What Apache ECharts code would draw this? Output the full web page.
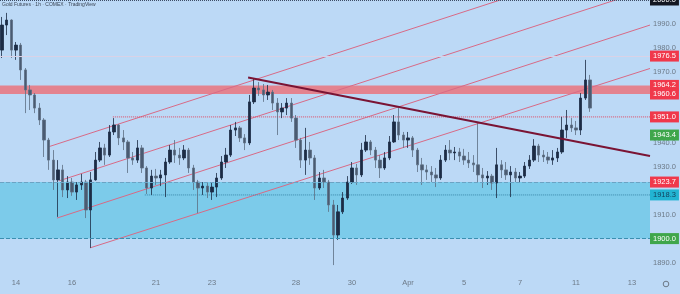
<!DOCTYPE html>
<html><head><meta charset="utf-8">
<script src="https://cdn.jsdelivr.net/npm/echarts@6/dist/echarts.min.js"></script>
<style>html,body{margin:0;padding:0;background:#bcd9f6}#c{width:680px;height:294px}</style>
</head><body><div id="c"></div>
<script>
// ---- data (prices in USD/oz, x in trading days since the Mar 14 session start) ----
const barsPerDay = 6;          // 4-hour bars
const firstBar = -0.5;         // first bar position (trading days)
const opens=[1979.0,1989.5,1991.6,1979.0,1981.1,1970.7,1962.3,1960.2,1954.7,1949.7,
1941.3,1932.9,1924.6,1928.8,1920.4,1923.7,1919.5,1922.5,1923.7,1912.0,
1924.6,1932.9,1938.0,1935.0,1944.7,1947.6,1942.2,1940.5,1933.8,1932.9,
1938.0,1929.6,1921.2,1926.2,1925.4,1926.7,1932.1,1937.1,1935.0,1933.8,
1937.1,1929.6,1923.7,1921.2,1922.0,1919.5,1921.6,1925.4,1932.1,1935.0,
1945.5,1946.4,1942.2,1940.1,1957.3,1963.1,1962.3,1960.2,1961.4,1956.8,
1953.1,1954.7,1956.8,1950.5,1941.3,1932.9,1937.1,1933.8,1921.2,1925.4,
1923.7,1914.1,1901.5,1911.2,1917.0,1923.7,1929.6,1926.7,1937.1,1940.5,
1937.1,1932.9,1929.6,1933.8,1940.5,1948.9,1943.4,1941.3,1942.2,1937.1,
1930.9,1928.8,1927.9,1926.7,1925.4,1932.9,1937.1,1935.9,1936.3,1934.6,
1932.9,1931.7,1930.9,1926.7,1925.4,1926.2,1923.3,1930.9,1928.8,1926.7,
1927.9,1925.4,1926.2,1930.4,1932.9,1938.8,1935.0,1934.2,1932.9,1933.8,
1936.3,1945.5,1947.6,1946.4,1945.5,1958.9,1966.5];
const closes=[1989.5,1991.6,1979.0,1981.1,1970.7,1962.3,1960.2,1954.7,1949.7,1941.3,
1932.9,1924.6,1928.8,1920.4,1923.7,1919.5,1922.5,1923.7,1912.0,1924.6,
1932.9,1938.0,1935.0,1944.7,1947.6,1942.2,1940.5,1933.8,1932.9,1938.0,
1929.6,1921.2,1926.2,1925.4,1926.7,1932.1,1937.1,1935.0,1933.8,1937.1,
1929.6,1923.7,1921.2,1922.0,1919.5,1921.6,1925.4,1932.1,1935.0,1945.5,
1946.4,1942.2,1940.1,1957.3,1963.1,1962.3,1960.2,1961.4,1956.8,1953.1,
1954.7,1956.8,1950.5,1941.3,1932.9,1937.1,1933.8,1921.2,1925.4,1923.7,
1914.1,1901.5,1911.2,1917.0,1923.7,1929.6,1926.7,1937.1,1940.5,1937.1,
1932.9,1929.6,1933.8,1940.5,1948.9,1943.4,1941.3,1942.2,1937.1,1930.9,
1928.8,1927.9,1926.7,1925.4,1932.9,1937.1,1935.9,1936.3,1934.6,1932.9,
1931.7,1930.9,1926.7,1925.4,1926.2,1923.3,1930.9,1928.8,1926.7,1927.9,
1925.4,1926.2,1930.4,1932.9,1938.8,1935.0,1934.2,1932.9,1933.8,1936.3,
1945.5,1947.6,1946.4,1945.5,1958.9,1966.5,1954.7];
const lows=[1975.7,1985.3,1975.7,1974.9,1966.5,1952.6,1953.9,1952.6,1947.6,1934.2,
1928.8,1920.4,1909.1,1917.4,1917.0,1917.9,1916.2,1920.4,1908.6,1896.1,
1924.3,1932.1,1930.9,1934.2,1943.4,1939.2,1937.1,1927.5,1930.9,1931.7,
1927.5,1918.7,1918.3,1922.5,1922.0,1917.4,1931.3,1931.7,1930.9,1932.9,
1927.5,1920.4,1910.7,1918.3,1917.0,1916.2,1917.4,1924.6,1929.6,1934.2,
1943.0,1940.5,1937.1,1939.2,1956.4,1959.8,1957.3,1958.1,1953.9,1943.4,
1950.5,1951.8,1948.9,1938.0,1929.6,1926.7,1930.9,1916.2,1920.4,1921.2,
1911.2,1888.9,1899.4,1910.3,1916.2,1922.9,1922.5,1925.8,1936.3,1935.0,
1929.6,1925.4,1928.8,1932.9,1940.1,1941.3,1938.0,1938.0,1934.2,1927.9,
1922.5,1924.6,1923.7,1921.6,1924.6,1932.1,1932.9,1932.9,1932.1,1930.9,
1929.6,1927.9,1923.7,1921.2,1922.5,1920.4,1917.0,1925.4,1924.6,1917.4,
1923.7,1923.3,1925.4,1929.2,1932.1,1932.1,1932.1,1931.3,1930.9,1932.1,
1935.5,1942.2,1944.7,1943.4,1943.4,1958.1,1953.1];
const highs=[1992.9,1994.6,1991.9,1982.4,1982.0,1971.5,1964.4,1961.0,1956.8,1950.5,
1942.2,1937.1,1932.9,1930.9,1926.2,1925.4,1923.7,1927.1,1924.6,1927.9,
1936.3,1940.5,1939.7,1947.6,1950.5,1948.0,1945.5,1941.3,1936.3,1941.3,
1939.2,1930.4,1928.8,1929.2,1928.8,1933.8,1939.2,1941.3,1938.0,1939.2,
1938.0,1930.9,1924.6,1923.7,1923.7,1923.3,1927.5,1934.6,1938.0,1947.6,
1948.9,1947.2,1943.8,1960.2,1966.9,1965.6,1964.8,1964.4,1962.3,1958.9,
1956.8,1958.9,1958.9,1951.8,1942.2,1946.4,1940.5,1935.0,1927.9,1928.8,
1924.6,1916.2,1914.1,1919.5,1926.2,1932.1,1931.3,1940.1,1943.4,1941.3,
1938.4,1935.0,1936.3,1943.0,1951.8,1954.7,1944.7,1944.7,1943.0,1938.0,
1933.8,1930.9,1930.4,1929.6,1935.0,1939.2,1941.3,1938.4,1938.0,1937.6,
1936.3,1935.0,1948.5,1929.6,1928.3,1927.1,1938.0,1932.9,1932.1,1930.4,
1929.6,1927.9,1932.1,1935.0,1941.7,1939.7,1937.1,1936.3,1937.1,1938.0,
1951.0,1953.9,1950.5,1949.3,1961.0,1974.9,1968.6];

const dayTicks  = [0, 2, 5, 7, 10, 12, 14, 16, 18, 20, 22];
const dayLabels = ['14','16','21','23','28','30','Apr','5','7','11','13'];
const priceTicks = [1890, 1910, 1930, 1940, 1970, 1980, 1990];

// drawn levels / zones
const resistanceZone = [1960.6, 1964.2];
const supportZone    = [1900.0, 1923.7];
const level1951 = [[3.46, 1951.0], [22.643, 1951.0]];
const level1918 = [[4.6, 1918.3], [22.643, 1918.3]];
const trendLine = [[8.29, 1967.5], [22.643, 1934.6]];
const channelD = [[1.143, 1938.4], [22.643, 2020.4]];
const channelA = [[1.536, 1924.2], [22.643, 2004.7]];
const channelB = [[1.464, 1908.6], [22.643, 1989.5]];
const channelC = [[2.643, 1896.1], [22.643, 1971.3]];
const tagValues = [2000.0, 1976.5, 1964.2, 1960.6, 1951.0, 1943.4, 1923.7, 1918.3, 1900.0];
const tagKinds  = ['black','red','red','red','red','green','red','teal','green'];

// ---- chart ----
const FONT = 'Liberation Sans';
const tagStyles = {
  black: {bg:'#131722', fg:'#ffffff'},
  red:   {bg:'#f0384b', fg:'#ffffff'},
  green: {bg:'#3fa64b', fg:'#ffffff'},
  teal:  {bg:'#22b4d2', fg:'#123f5a'}
};
const candleData = opens.map((o,i)=>[firstBar + i/barsPerDay, o, closes[i], lows[i], highs[i]]);
const chLine = (d)=>({type:'line', data:d, showSymbol:false, symbol:'none', silent:true, z:2,
  lineStyle:{color:'#d86a86', width:1}, animation:false});

const chart = echarts.init(document.getElementById('c'), null, {renderer:'canvas'});
chart.setOption({
  animation:false,
  backgroundColor:'#bcd9f6',
  title:{text:'Gold Futures · 1h · COMEX · TradingView', left:2, top:2, padding:0,
    textStyle:{fontSize:5, fontWeight:'normal', color:'#3b4656', fontFamily:FONT}},
  grid:{left:0, right:30, top:0, bottom:22, containLabel:false, outerBoundsMode:'none'},
  xAxis:{type:'value', min:-0.571, max:22.643,
    axisLine:{show:false}, axisTick:{show:false}, splitLine:{show:false},
    axisLabel:{customValues:dayTicks, margin:7, color:'#6c7987', fontSize:7.5, fontFamily:FONT,
      formatter:(v)=>dayLabels[dayTicks.indexOf(Math.round(v))] || ''}},
  yAxis:{type:'value', position:'right', min:1886, max:2000, scale:true,
    axisLine:{show:false}, axisTick:{show:false}, splitLine:{show:false},
    axisLabel:{customValues:priceTicks, margin:3, color:'#6c7987', fontSize:7.5, fontFamily:FONT,
      formatter:(v)=>v.toFixed(1)}},
  graphic:[{type:'circle', shape:{cx:666, cy:284, r:2.8}, style:{fill:'none', stroke:'#6c7987', lineWidth:1}}],
  series:[
    {type:'line', data:[], z:1, silent:true,
     markArea:{silent:true, data:[
       [{yAxis:resistanceZone[0], itemStyle:{color:'#e3838f'}}, {yAxis:resistanceZone[1]}],
       [{yAxis:supportZone[0], itemStyle:{color:'#7ccbea'}}, {yAxis:supportZone[1]}]
     ]},
     markLine:{silent:true, symbol:['none','none'], label:{show:false}, data:[
       {yAxis:supportZone[1], lineStyle:{color:'#6aa3c4', type:'dashed', width:1}},
       {yAxis:supportZone[0], lineStyle:{color:'#3a8fb0', type:'dashed', width:1}},
       {yAxis:1976.5, lineStyle:{color:'#d9d2e6', type:'solid', width:1}},
       {yAxis:2000.0, lineStyle:{color:'#3d4d66', type:'dotted', width:1}}
     ]}},
    chLine(channelD), chLine(channelA), chLine(channelB), chLine(channelC),
    {type:'line', data:level1951, showSymbol:false, symbol:'none', silent:true, z:2,
     lineStyle:{color:'#e04a62', type:'dotted', width:1}},
    {type:'line', data:level1918, showSymbol:false, symbol:'none', silent:true, z:2,
     lineStyle:{color:'#3a86aa', type:'dotted', width:1}},
    {type:'candlestick', data:candleData, encode:{x:0, y:[1,2,3,4]}, barWidth:2.6, z:3,
     itemStyle:{color:'#1c2c45', color0:'#4a5b72', borderColor:'#1c2c45', borderColor0:'#5d6e83', borderWidth:0.8}},
    {type:'line', data:trendLine, showSymbol:false, symbol:'none', silent:true, z:4,
     lineStyle:{color:'#7a1434', width:2}},
    {type:'line', data:[], z:10, silent:true,
     markLine:{silent:true, symbol:['none','none'], lineStyle:{color:'rgba(0,0,0,0)', width:0.1},
       data: tagValues.map((v,i)=>({yAxis:v, label:{show:true, position:'end', distance:0,
         formatter:v.toFixed(1), backgroundColor:tagStyles[tagKinds[i]].bg, color:tagStyles[tagKinds[i]].fg,
         fontSize:7.5, fontFamily:FONT, padding:[2,3,1,3]}}))}}
  ]
});
</script></body></html>
